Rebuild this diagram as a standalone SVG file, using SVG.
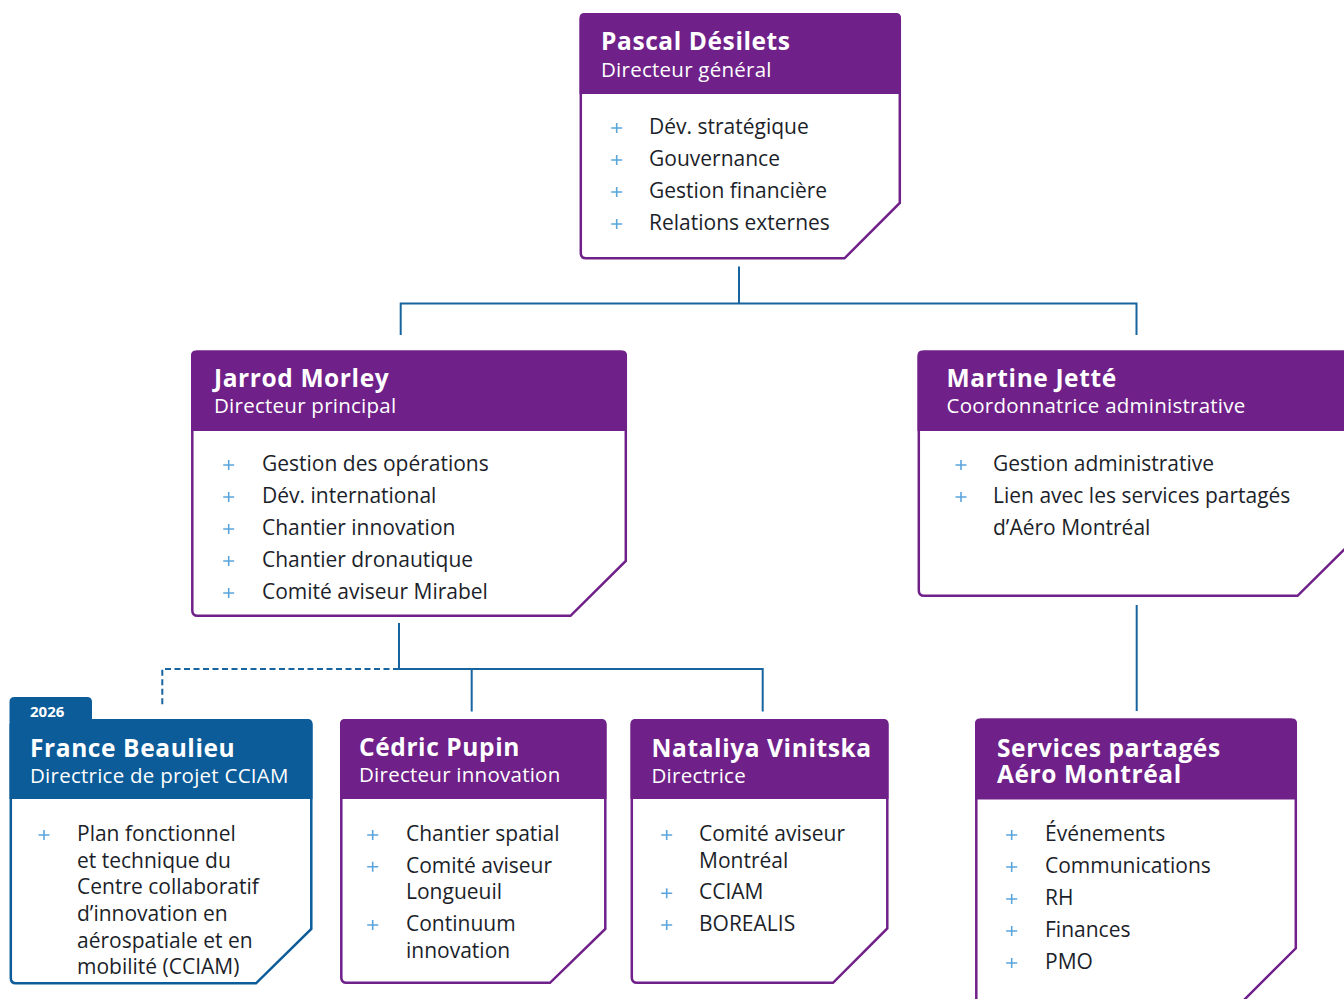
<svg xmlns="http://www.w3.org/2000/svg" xmlns:xlink="http://www.w3.org/1999/xlink" width="1344" height="999" viewBox="0 0 1344 999">
<defs>
<style>
.body{fill:#ffffff;stroke:#6f2089;stroke-width:2.5;stroke-linejoin:miter}
.bodyb{fill:#ffffff;stroke:#0b5c99;stroke-width:2.5}
.hdr{fill:#6f2089}
.hdrb{fill:#0b5c99}
.name{font-family:"Open Sans","Noto Sans",sans-serif;font-weight:700;font-size:24.5px;letter-spacing:0.6px;fill:#ffffff}
.sub{font-family:"Open Sans","Noto Sans",sans-serif;font-size:20.5px;letter-spacing:0.25px;fill:#ffffff}
.item{font-family:"Open Sans","Noto Sans",sans-serif;font-size:21px;fill:#1c1f2a}
.tab{font-family:"Open Sans","Noto Sans",sans-serif;font-weight:700;font-size:15px;fill:#ffffff}
.conn{fill:none;stroke:#17649f;stroke-width:2}
.dash{fill:none;stroke:#17649f;stroke-width:2;stroke-dasharray:6 3.5}
</style>
<path id="plus" d="M-5.5,0H5.5M0,-5V5" stroke="#5aa5de" stroke-width="1.6" fill="none"/>
</defs>

<g id="connectors">
<path class="conn" d="M739,266.5V303.5"/>
<path class="conn" d="M400.7,335V303.5H1136.5V335"/>
<path class="conn" d="M399,623V669"/>
<path class="conn" d="M471.7,711.5V669M399,669H762.7V711.5"/>
<path class="dash" d="M399,669H162.3V706"/>
<path class="conn" d="M1136.7,605V711"/>
</g>

<g id="node-pascal">
<path class="body" d="M586,14.5H894.5Q899.8,14.5 899.8,19.5V203L844.5,258.3H586Q580.8,258.3 580.8,253V19.5Q580.8,14.5 586,14.5Z"/>
<path class="hdr" d="M584.5,13H896Q901,13 901,18V94H579.5V18Q579.5,13 584.5,13Z"/>
<text class="name" x="601" y="50">Pascal Désilets</text>
<text class="sub" x="601" y="77">Directeur général</text>
<use xlink:href="#plus" x="616.7" y="128"/><text class="item" x="649" y="134">Dév. stratégique</text>
<use xlink:href="#plus" x="616.7" y="160"/><text class="item" x="649" y="166">Gouvernance</text>
<use xlink:href="#plus" x="616.7" y="192"/><text class="item" x="649" y="198">Gestion financière</text>
<use xlink:href="#plus" x="616.7" y="224"/><text class="item" x="649" y="230">Relations externes</text>
</g>

<g id="node-jarrod">
<path class="body" d="M197.5,351.8H620.5Q625.8,351.8 625.8,357V561L570.5,615.8H197.5Q192.3,615.8 192.3,610.5V357Q192.3,351.8 197.5,351.8Z"/>
<path class="hdr" d="M196,350.5H622Q627,350.5 627,355.5V431H191V355.5Q191,350.5 196,350.5Z"/>
<text class="name" x="214" y="387">Jarrod Morley</text>
<text class="sub" x="214" y="413">Directeur principal</text>
<use xlink:href="#plus" x="228.7" y="465"/><text class="item" x="262" y="471">Gestion des opérations</text>
<use xlink:href="#plus" x="228.7" y="497"/><text class="item" x="262" y="503">Dév. international</text>
<use xlink:href="#plus" x="228.7" y="529"/><text class="item" x="262" y="535">Chantier innovation</text>
<use xlink:href="#plus" x="228.7" y="561"/><text class="item" x="262" y="567">Chantier dronautique</text>
<use xlink:href="#plus" x="228.7" y="593"/><text class="item" x="262" y="599">Comité aviseur Mirabel</text>
</g>

<g id="node-martine">
<path class="body" d="M924,351.8H1347.5Q1352.8,351.8 1352.8,357V541L1297.5,595.8H924Q918.8,595.8 918.8,590.5V357Q918.8,351.8 924,351.8Z"/>
<path class="hdr" d="M922.5,350.5H1349Q1354,350.5 1354,355.5V431H917.5V355.5Q917.5,350.5 922.5,350.5Z"/>
<text class="name" x="946.5" y="387">Martine Jetté</text>
<text class="sub" x="946.5" y="413">Coordonnatrice administrative</text>
<use xlink:href="#plus" x="961" y="465"/><text class="item" x="993" y="471">Gestion administrative</text>
<use xlink:href="#plus" x="961" y="497"/><text class="item" x="993" y="503">Lien avec les services partagés</text>
<text class="item" x="993" y="535">d’Aéro Montréal</text>
</g>

<g id="node-france">
<path class="hdrb" d="M14.5,697H87Q92,697 92,702V722H9.5V702Q9.5,697 14.5,697Z"/>
<text class="tab" x="30" y="717">2026</text>
<path class="bodyb" d="M16,720.3H306Q311.3,720.3 311.3,725.5V929L256,983.3H16Q10.8,983.3 10.8,978V725.5Q10.8,720.3 16,720.3Z"/>
<path class="hdrb" d="M14.5,719H307.5Q312.5,719 312.5,724V799H9.5V724Q9.5,719 14.5,719Z"/>
<text class="name" x="30" y="757">France Beaulieu</text>
<text class="sub" x="30" y="783">Directrice de projet CCIAM</text>
<use xlink:href="#plus" x="44" y="835"/>
<text class="item" x="77" y="841">Plan fonctionnel</text>
<text class="item" x="77" y="867.7">et technique du</text>
<text class="item" x="77" y="894.3">Centre collaboratif</text>
<text class="item" x="77" y="921">d’innovation en</text>
<text class="item" x="77" y="947.7">aérospatiale et en</text>
<text class="item" x="77" y="974.3">mobilité (CCIAM)</text>
</g>

<g id="node-cedric">
<path class="body" d="M346.5,720.3H600Q605.3,720.3 605.3,725.5V929L550,982.8H346.5Q341.3,982.8 341.3,977.5V725.5Q341.3,720.3 346.5,720.3Z"/>
<path class="hdr" d="M345,719H601.5Q606.5,719 606.5,724V799H340V724Q340,719 345,719Z"/>
<text class="name" x="359" y="756">Cédric Pupin</text>
<text class="sub" x="359" y="782">Directeur innovation</text>
<use xlink:href="#plus" x="372.7" y="835"/><text class="item" x="406" y="841">Chantier spatial</text>
<use xlink:href="#plus" x="372.7" y="866.7"/><text class="item" x="406" y="872.7">Comité aviseur</text>
<text class="item" x="406" y="899.3">Longueuil</text>
<use xlink:href="#plus" x="372.7" y="925"/><text class="item" x="406" y="931">Continuum</text>
<text class="item" x="406" y="957.7">innovation</text>
</g>

<g id="node-nataliya">
<path class="body" d="M637,720.3H882Q887.3,720.3 887.3,725.5V928.5L833,982.8H637Q631.8,982.8 631.8,977.5V725.5Q631.8,720.3 637,720.3Z"/>
<path class="hdr" d="M635.5,719H883.5Q888.5,719 888.5,724V799H630.5V724Q630.5,719 635.5,719Z"/>
<text class="name" x="651.5" y="757">Nataliya Vinitska</text>
<text class="sub" x="651.5" y="783">Directrice</text>
<use xlink:href="#plus" x="666.7" y="835"/><text class="item" x="699" y="841">Comité aviseur</text>
<text class="item" x="699" y="867.7">Montréal</text>
<use xlink:href="#plus" x="666.7" y="893.3"/><text class="item" x="699" y="899.3">CCIAM</text>
<use xlink:href="#plus" x="666.7" y="925"/><text class="item" x="699" y="931">BOREALIS</text>
</g>

<g id="node-services">
<path class="body" d="M981.5,719.8H1290.5Q1295.8,719.8 1295.8,725V948.3L1240,1004H981.5Q976.3,1004 976.3,999V725Q976.3,719.8 981.5,719.8Z"/>
<path class="hdr" d="M980,718.5H1292Q1297,718.5 1297,723.5V799.5H975V723.5Q975,718.5 980,718.5Z"/>
<text class="name" x="997" y="757">Services partagés</text>
<text class="name" x="997" y="783">Aéro Montréal</text>
<use xlink:href="#plus" x="1011.7" y="835"/><text class="item" x="1045" y="841">Événements</text>
<use xlink:href="#plus" x="1011.7" y="867"/><text class="item" x="1045" y="873">Communications</text>
<use xlink:href="#plus" x="1011.7" y="899"/><text class="item" x="1045" y="905">RH</text>
<use xlink:href="#plus" x="1011.7" y="931"/><text class="item" x="1045" y="937">Finances</text>
<use xlink:href="#plus" x="1011.7" y="963"/><text class="item" x="1045" y="969">PMO</text>
</g>
</svg>
